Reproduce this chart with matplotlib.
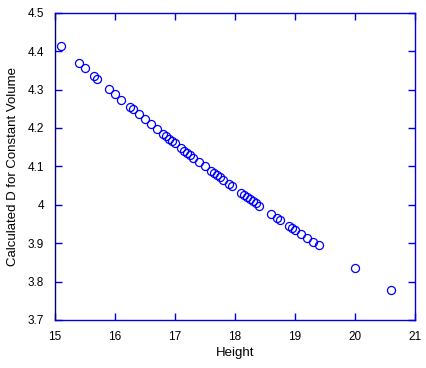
import matplotlib
matplotlib.use("Agg")
import matplotlib.pyplot as plt
from matplotlib.ticker import FuncFormatter

height = [15.1, 15.4, 15.5, 15.65, 15.7, 15.9, 16.0, 16.1, 16.25, 16.3, 16.4, 16.5,
          16.6, 16.7, 16.8, 16.85, 16.9, 16.95, 17.0, 17.1, 17.15, 17.2, 17.25, 17.3,
          17.4, 17.5, 17.6, 17.65, 17.7, 17.75, 17.8, 17.9, 17.95, 18.1, 18.15, 18.2,
          18.25, 18.3, 18.35, 18.4, 18.6, 18.7, 18.75, 18.9, 18.95, 19.0, 19.1, 19.2,
          19.3, 19.4, 20.0, 20.6]
diameter = [4.413, 4.370, 4.356, 4.335, 4.328, 4.301, 4.288, 4.274, 4.254, 4.248,
            4.235, 4.222, 4.209, 4.197, 4.184, 4.178, 4.172, 4.166, 4.160, 4.147,
            4.141, 4.135, 4.129, 4.123, 4.112, 4.100, 4.088, 4.082, 4.077, 4.071,
            4.065, 4.054, 4.048, 4.031, 4.026, 4.020, 4.015, 4.009, 4.004, 3.998,
            3.977, 3.966, 3.961, 3.945, 3.940, 3.935, 3.925, 3.914, 3.904, 3.894,
            3.835, 3.779]
xticks = [15, 16, 17, 18, 19, 20, 21]
yticks = [3.7, 3.8, 3.9, 4.0, 4.1, 4.2, 4.3, 4.4, 4.5]

plt.rcParams['font.family'] = ['Liberation Sans', 'DejaVu Sans']
fig = plt.figure(figsize=(4.27, 3.68), dpi=100)
ax = fig.add_axes([55/427, 1-320/368, 360/427, (320-12.7)/368])
ax.plot(height, diameter, linestyle='none', marker='o', markersize=5.8,
        markerfacecolor='none', markeredgecolor='#0000ff', markeredgewidth=0.9)
ax.set_xlim(15, 21)
ax.set_ylim(3.7, 4.5)
ax.set_xticks(xticks)
ax.set_yticks(yticks)
ax.xaxis.set_major_formatter(FuncFormatter(lambda v, p: '%g' % v))
ax.yaxis.set_major_formatter(FuncFormatter(lambda v, p: '%g' % round(v, 2)))
for s in ax.spines.values():
    s.set_color('#0000dd')
    s.set_linewidth(1.0)
ax.spines['left'].set_color('#000070')
ax.tick_params(direction='in', length=5, width=1, color='#0000dd',
               top=True, right=True, labelsize=8.5, pad=8)
ax.set_xlabel('Height', fontsize=9.5, labelpad=3)
ax.set_ylabel('Calculated D for Constant Volume', fontsize=9.5, labelpad=6)
fig.savefig('out.png', dpi=100)
